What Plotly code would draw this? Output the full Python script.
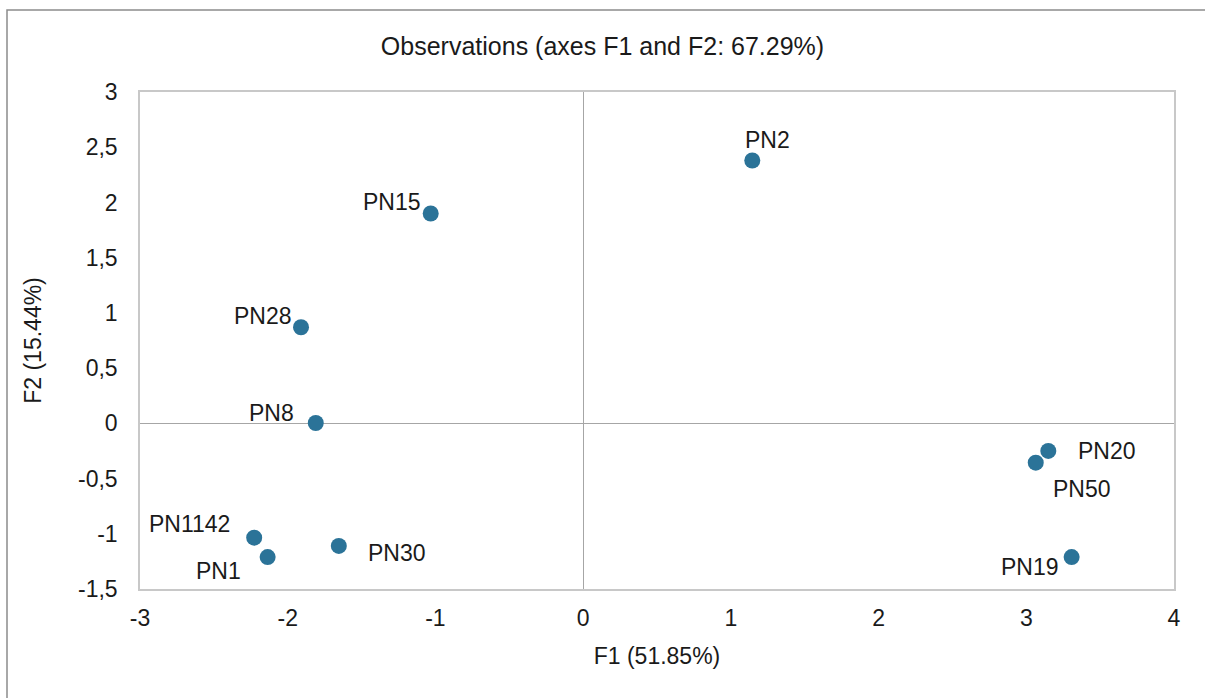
import plotly.graph_objects as go

# Data
labels = ["PN2", "PN15", "PN28", "PN8", "PN1142", "PN1", "PN30", "PN20", "PN50", "PN19"]
f1 = [1.145, -1.032, -1.91, -1.81, -2.227, -2.136, -1.654, 3.149, 3.064, 3.307]
f2 = [2.38, 1.90, 0.87, 0.003, -1.035, -1.211, -1.11, -0.25, -0.356, -1.211]

x_tickvals = [-3, -2, -1, 0, 1, 2, 3, 4]
x_ticktext = ["-3", "-2", "-1", "0", "1", "2", "3", "4"]
y_tickvals = [-1.5, -1, -0.5, 0, 0.5, 1, 1.5, 2, 2.5, 3]
y_ticktext = ["-1,5", "-1", "-0,5", "0", "0,5", "1", "1,5", "2", "2,5", "3"]

# Label offsets in pixels (style)
label_shift = {
    "PN2": (15, 20), "PN15": (-39, 11), "PN28": (-38, 11), "PN8": (-44, 10),
    "PN1142": (-65, 14), "PN1": (-49, -14), "PN30": (58, -7), "PN20": (59, 0),
    "PN50": (46, -26), "PN19": (-42, -10),
}

FONT = "Liberation Sans, Arial, sans-serif"
TXT = "#1a1a1a"
FS = 23

fig = go.Figure()
fig.add_trace(go.Scatter(
    x=f1, y=f2, mode="markers",
    marker=dict(size=16, color="#2b7398"),
    hoverinfo="text", text=labels, showlegend=False,
))

for lab, x, y in zip(labels, f1, f2):
    dx, dy = label_shift[lab]
    fig.add_annotation(x=x, y=y, text=lab, showarrow=False, xshift=dx, yshift=dy,
                       font=dict(size=FS, color=TXT, family=FONT))

# Outer chart border (top and left visible)
fig.add_shape(type="rect", xref="paper", yref="paper",
              x0=-133/1034, x1=1.3, y0=-1.0, y1=(589 - 10) / 497,
              line=dict(color="#8c8c8c", width=1.5), layer="below")

axis_common = dict(
    showgrid=False, zeroline=True, zerolinecolor="#a6a6a6", zerolinewidth=1,
    showline=True, linecolor="#c8c8c8", linewidth=1.5, mirror=True,
    ticks="", tickfont=dict(size=FS, color=TXT, family=FONT),
)

fig.update_xaxes(range=[-3, 4], tickvals=x_tickvals, ticktext=x_ticktext,
                 ticklabelstandoff=8,
                 title=dict(text="F1 (51.85%)", font=dict(size=FS, color=TXT, family=FONT),
                            standoff=18),
                 **axis_common)
fig.update_yaxes(range=[-1.5, 3], tickvals=y_tickvals, ticktext=y_ticktext,
                 ticklabelstandoff=16,
                 title=dict(text="F2 (15.44%)", font=dict(size=FS, color=TXT, family=FONT),
                            standoff=30),
                 **axis_common)

fig.update_layout(
    width=1205, height=698,
    margin=dict(l=140, r=31, t=92, b=109),
    paper_bgcolor="white", plot_bgcolor="white",
    title=dict(text="Observations (axes F1 and F2: 67.29%)", x=0.5, xanchor="center",
               y=1 - 46 / 698, yanchor="middle",
               font=dict(size=25, color=TXT, family=FONT)),
    font=dict(family=FONT),
)

fig.write_html("out.html")
